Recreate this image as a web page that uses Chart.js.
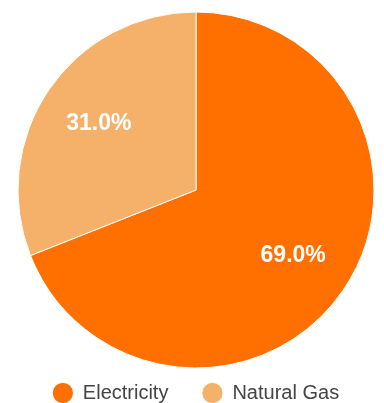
<!DOCTYPE html>
<html>
<head>
<meta charset="utf-8">
<title>Energy use</title>
<script src="https://cdn.jsdelivr.net/npm/chart.js@4"></script>
<style>
  html, body { margin: 0; padding: 0; background: #fff; overflow: hidden; }
  #wrap { width: 384px; height: 413px; position: relative; }
</style>
</head>
<body>
<div id="wrap"><canvas id="energy-chart"></canvas></div>
<script>
"use strict";

// Share of energy use by source (percent)
let sources = ["Electricity", "Natural Gas"];
let shares = [69.0, 31.0];
let sliceColors = ["rgb(255, 112, 0)", "rgb(245, 176, 106)"];

// Writes the percentage inside each slice
let sliceLabels = {
  id: "sliceLabels",
  afterDatasetsDraw(chart) {
    let ctx = chart.ctx;
    let meta = chart.getDatasetMeta(0);
    ctx.save();
    ctx.fillStyle = "#fff";
    ctx.font = "bold 23px 'Liberation Sans', Arial, sans-serif";
    ctx.textAlign = "center";
    ctx.textBaseline = "middle";
    meta.data.forEach(function (arc, i) {
      let mid = (arc.startAngle + arc.endAngle) / 2;
      let r = arc.outerRadius * 0.66;
      let x = arc.x + Math.cos(mid) * r;
      let y = arc.y + Math.sin(mid) * r;
      ctx.fillText(shares[i].toFixed(1) + "%", x, y);
    });
    ctx.restore();
  },
};

let ctx = document.getElementById("energy-chart").getContext("2d");

let energyChart = new Chart(ctx, {
  type: "pie",
  data: {
    labels: sources,
    datasets: [
      {
        data: shares,
        backgroundColor: sliceColors,
        borderColor: "#fff",
        borderWidth: 1,
        radius: 178,
        clip: false,
      },
    ],
  },
  options: {
    responsive: true,
    maintainAspectRatio: false,
    animation: false,
    layout: {
      padding: { top: 31, left: 8, right: 0, bottom: 0 },
    },
    plugins: {
      tooltip: { enabled: false },
      legend: {
        position: "bottom",
        labels: {
          usePointStyle: true,
          pointStyle: "circle",
          boxHeight: 15,
          padding: 34,
          color: "#444",
          font: { size: 20, family: "'Liberation Sans', Arial, sans-serif" },
        },
      },
    },
  },
  plugins: [sliceLabels],
});
</script>
</body>
</html>
